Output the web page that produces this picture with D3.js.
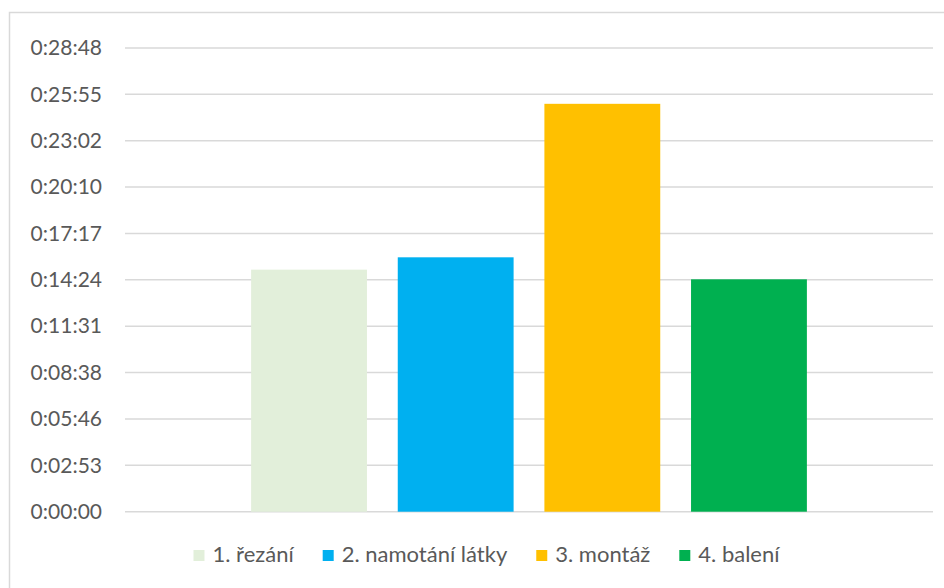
<!DOCTYPE html>
<html>
<head>
<meta charset="utf-8">
<script src="https://cdn.jsdelivr.net/npm/d3@7"></script>
<style>
  html, body { margin: 0; padding: 0; background: #fff; }
  svg { display: block; }
  text { font-family: Lato, "Open Sans", sans-serif; fill: #595959; }
</style>
</head>
<body>
<svg id="chart" width="944" height="588"></svg>
<script>
// Process steps and measured durations (h:mm:ss)
const steps = ["1. řezání", "2. namotání látky", "3. montáž", "4. balení"];
const durations = ["0:15:02", "0:15:48", "0:25:20", "0:14:26"];
const colors = ["#E2EFDA", "#00B0F0", "#FFC000", "#00B050"];

// Axis labels: steps of 0.002 day (172.8 s) up to 0.02 day
const tickLabels = ["0:00:00", "0:02:53", "0:05:46", "0:08:38", "0:11:31", "0:14:24",
                    "0:17:17", "0:20:10", "0:23:02", "0:25:55", "0:28:48"];
const tickStepSeconds = 172.8;
const axisMaxSeconds = 1728;

const toSeconds = s => s.split(":").map(Number).reduce((a, v) => a * 60 + v, 0);
const data = steps.map((name, i) => ({ name, value: toSeconds(durations[i]), color: colors[i] }));

const svg = d3.select("#chart");
const W = 944, H = 588;
const plot = { left: 125, right: 933, top: 48, bottom: 511.7 };

// Chart frame
svg.append("rect")
  .attr("x", 9.5).attr("y", 12.5)
  .attr("width", W + 20).attr("height", H + 20)
  .attr("fill", "none").attr("stroke", "#D9D9D9").attr("stroke-width", 1.5);

const y = d3.scaleLinear().domain([0, axisMaxSeconds]).range([plot.bottom, plot.top]);
const x = d3.scaleBand().domain(steps).range([plot.left, plot.right])
  .paddingInner(0.21).paddingOuter(0.86);

const tickValues = tickLabels.map((_, i) => i * tickStepSeconds);

// Gridlines
svg.append("g")
  .selectAll("line").data(tickValues).join("line")
  .attr("x1", plot.left).attr("x2", plot.right)
  .attr("y1", d => y(d)).attr("y2", d => y(d))
  .attr("stroke", "#D9D9D9").attr("stroke-width", 1.5);

// Y axis labels
const yAxis = d3.axisLeft(y).tickValues(tickValues)
  .tickFormat((d, i) => tickLabels[i]).tickSize(0).tickPadding(0);
const gy = svg.append("g").attr("transform", "translate(102,0)").call(yAxis);
gy.select(".domain").remove();
gy.selectAll("text").attr("font-size", 21).style("font-family", "Lato, sans-serif").attr("fill", "#595959");

// Bars
svg.append("g")
  .selectAll("rect").data(data).join("rect")
  .attr("x", d => x(d.name))
  .attr("width", x.bandwidth())
  .attr("y", d => y(d.value))
  .attr("height", d => y(0) - y(d.value))
  .attr("fill", d => d.color);

// Legend
const legend = svg.append("g");
const items = legend.selectAll("g").data(data).join("g");
items.append("rect").attr("width", 11).attr("height", 11).attr("y", -12).attr("fill", d => d.color);
items.append("text").attr("x", 19).attr("y", 0).attr("font-size", 22).text(d => d.name);
let widths = [];
items.each(function () { widths.push(19 + d3.select(this).select("text").node().getComputedTextLength()); });
const gap = 29;
const total = d3.sum(widths) + gap * (widths.length - 1);
let cx = 486.5 - total / 2;
items.attr("transform", (d, i) => { const t = `translate(${cx},562)`; cx += widths[i] + gap; return t; });
</script>
</body>
</html>
